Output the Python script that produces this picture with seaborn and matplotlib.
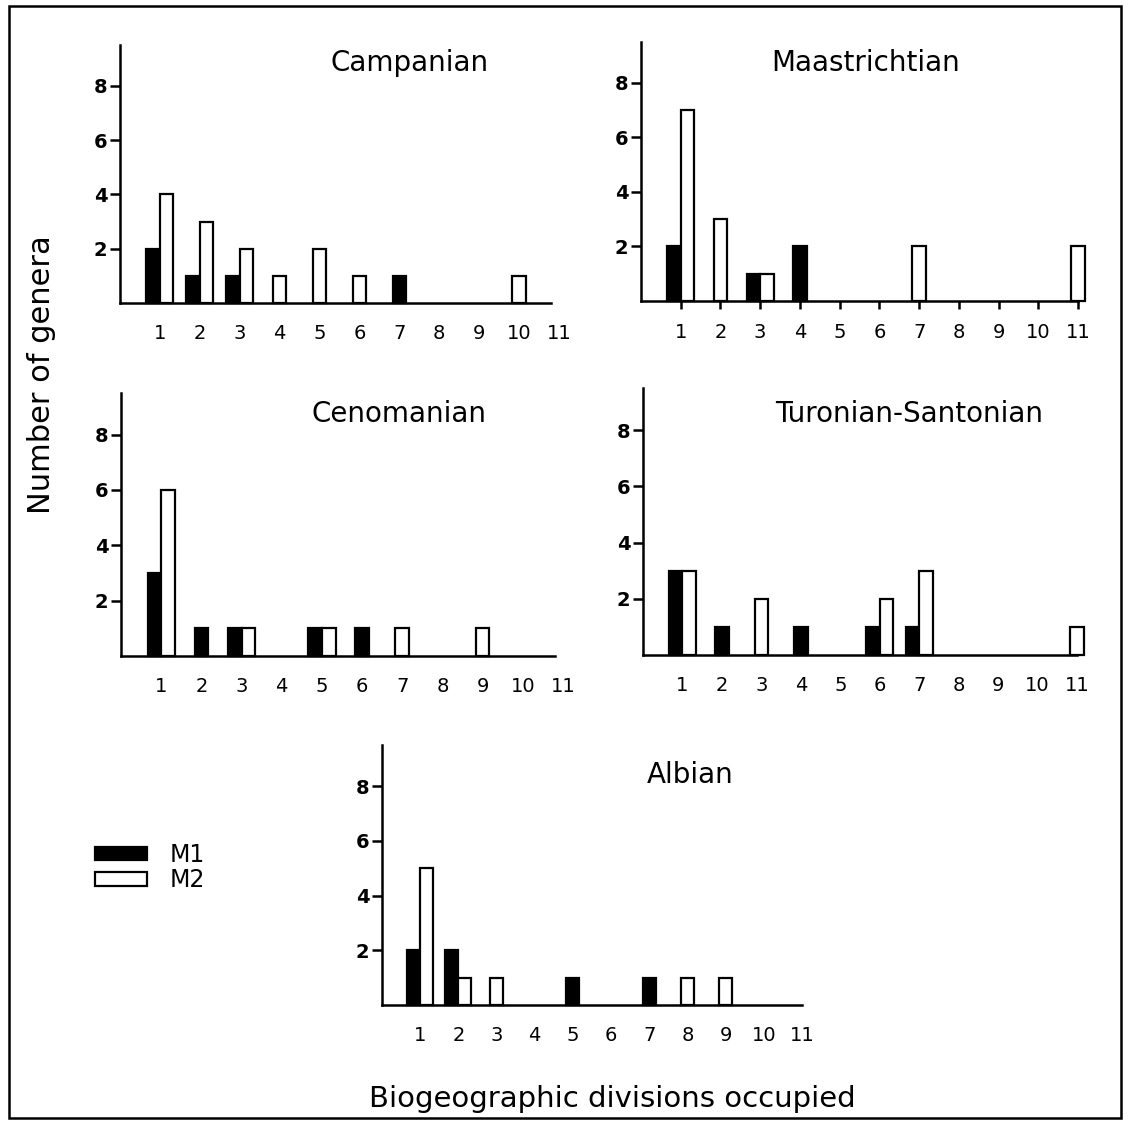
import numpy as np
import pandas as pd
import matplotlib
matplotlib.use("Agg")
import matplotlib.pyplot as plt
from matplotlib.patches import Patch, Rectangle
import seaborn as sns

# ---------------- data ----------------
divisions = list(range(1, 12))
tick_labels = [str(d) for d in divisions]
y_ticks = [2, 4, 6, 8]
models = ["M1", "M2"]

campanian_m1 = [2, 1, 1, 0, 0, 0, 1, 0, 0, 0, 0]
campanian_m2 = [4, 3, 2, 1, 2, 1, 0, 0, 0, 1, 0]
maastrichtian_m1 = [2, 0, 1, 2, 0, 0, 0, 0, 0, 0, 0]
maastrichtian_m2 = [7, 3, 1, 0, 0, 0, 2, 0, 0, 0, 2]
cenomanian_m1 = [3, 1, 1, 0, 1, 1, 0, 0, 0, 0, 0]
cenomanian_m2 = [6, 0, 1, 0, 1, 0, 1, 0, 1, 0, 0]
turonian_m1 = [3, 1, 0, 1, 0, 1, 1, 0, 0, 0, 0]
turonian_m2 = [3, 0, 2, 0, 0, 2, 3, 0, 0, 0, 1]
albian_m1 = [2, 2, 0, 0, 1, 0, 1, 0, 0, 0, 0]
albian_m2 = [5, 1, 1, 0, 0, 0, 0, 1, 1, 0, 0]

panel_titles = ["Campanian", "Maastrichtian", "Cenomanian",
                "Turonian-Santonian", "Albian"]
panel_m1 = [campanian_m1, maastrichtian_m1, cenomanian_m1, turonian_m1, albian_m1]
panel_m2 = [campanian_m2, maastrichtian_m2, cenomanian_m2, turonian_m2, albian_m2]

# ---------------- layout (pixels) ----------------
W, H = 1128, 1122
# left, top, width, bottom
rects = [(120, 45, 439, 303),
         (641, 42, 437, 301),
         (121, 393, 442, 656),
         (643, 388, 434, 655),
         (382, 745, 420, 1005)]
spine_end = [9.8, 10, 9.8, 10, 10]        # in category-index units
all_ticks = [False, True, False, False, False]
title_pos = [(410, 71), (866, 71), (399, 422), (909, 422), (690, 783)]

sns.set_theme(style="white")
plt.rcParams["font.family"] = ["DejaVu Sans"]
for k in ["text.color", "axes.labelcolor", "xtick.color", "ytick.color",
          "axes.edgecolor"]:
    plt.rcParams[k] = "black"

fig = plt.figure(figsize=(W / 100, H / 100), dpi=100)
fig.patch.set_facecolor("white")

palette = {"M1": "black", "M2": "white"}
order = divisions

for i in range(5):
    paired, lone = [], []
    for d, a, b in zip(divisions, panel_m1[i], panel_m2[i]):
        target = paired if (a > 0 and b > 0) else lone
        if a > 0:
            target.append({"division": d, "count": a, "model": "M1"})
        if b > 0:
            target.append({"division": d, "count": b, "model": "M2"})

    l, t, w, b = rects[i]
    ax = fig.add_axes([l / W, 1 - b / H, w / W, (b - t) / H])
    common = dict(x="division", y="count", hue="model", hue_order=models,
                  palette=palette, order=order, saturation=1,
                  edgecolor="black", linewidth=1.6, errorbar=None,
                  legend=False, ax=ax)
    if paired:
        sns.barplot(data=pd.DataFrame(paired), dodge=True, width=0.68,
                    **common)
    if lone:
        sns.barplot(data=pd.DataFrame(lone), dodge=False, width=0.34,
                    **common)
    for p in ax.patches:
        p.set_clip_on(False)

    ax.set_xlim(-1, 10)
    ax.set_ylim(0, 9.5)
    ax.set_xlabel("")
    ax.set_ylabel("")
    ax.set_facecolor("none")
    for s in ["top", "right"]:
        ax.spines[s].set_visible(False)
    for s in ["left", "bottom"]:
        ax.spines[s].set_linewidth(1.8)
        ax.spines[s].set_color("black")
    ax.spines["bottom"].set_bounds(-1, spine_end[i])

    ax.set_xticks(range(len(divisions)))
    ax.set_xticklabels(tick_labels, fontsize=14)
    if all_ticks[i]:
        ax.tick_params(axis="x", which="major", length=6, width=1.8,
                       direction="out", pad=10, bottom=True)
    else:
        ax.tick_params(axis="x", which="major", length=0, pad=15)
        ax.set_xticks([divisions.index(5)], minor=True)
        ax.tick_params(axis="x", which="minor", length=6, width=1.8,
                       direction="out", bottom=True)
    ax.set_yticks(y_ticks)
    ax.set_yticklabels([str(v) for v in y_ticks], fontsize=14,
                       fontweight="bold")
    ax.tick_params(axis="y", length=7, width=1.8, direction="out", pad=2,
                   left=True)

    tx, ty = title_pos[i]
    fig.text(tx / W, 1 - ty / H, panel_titles[i], ha="center",
             va="baseline", fontsize=20)

fig.text(42 / W, 1 - 375 / H, "Number of genera", rotation=90,
         ha="center", va="center", fontsize=22)
fig.text(612 / W, 1 - 1107 / H, "Biogeographic divisions occupied",
         ha="center", va="baseline", fontsize=21)

handles = [Patch(facecolor="black", edgecolor="black", linewidth=1.6),
           Patch(facecolor="white", edgecolor="black", linewidth=1.6)]
fig.legend(handles, models, loc="upper left",
           bbox_to_anchor=(95 / W, 1 - 843 / H), frameon=False,
           fontsize=17, handlelength=2.2, handleheight=0.5,
           handletextpad=0.95, labelspacing=0.05, borderpad=0,
           borderaxespad=0)

fig.add_artist(Rectangle((9 / W, 1 - 1118 / H), (1121 - 9) / W,
                         (1118 - 6) / H, transform=fig.transFigure,
                         fill=False, edgecolor="black", linewidth=1.8))

fig.savefig("out.png", dpi=100, facecolor="white")
